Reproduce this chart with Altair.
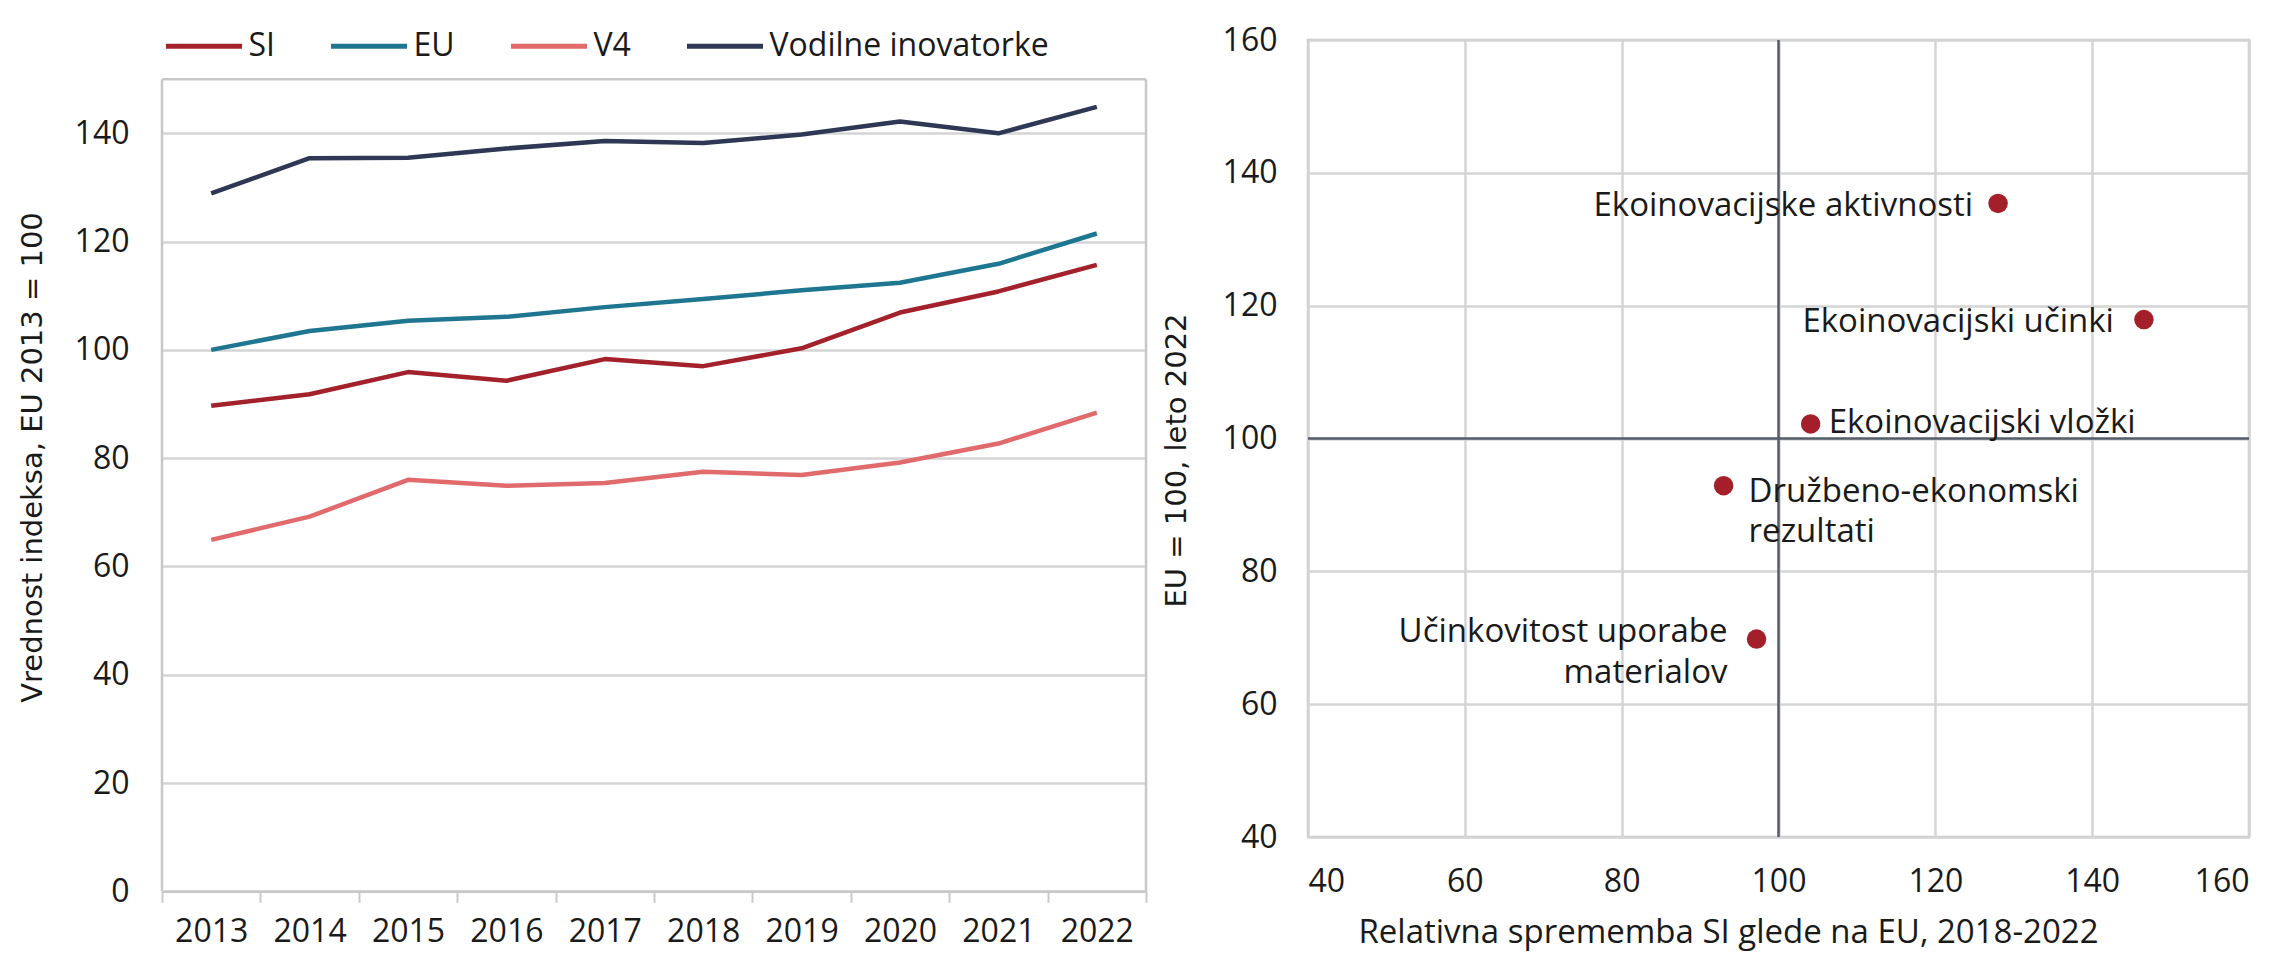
import altair as alt
import pandas as pd

# ---------------- data ----------------
years = ["2013", "2014", "2015", "2016", "2017", "2018", "2019", "2020", "2021", "2022"]
si = [89.7, 91.8, 95.9, 94.3, 98.3, 97.0, 100.3, 106.9, 110.8, 115.7]
eu = [100.0, 103.5, 105.4, 106.1, 107.9, 109.4, 111.0, 112.4, 115.9, 121.5]
v4 = [64.9, 69.2, 76.0, 74.9, 75.4, 77.5, 76.9, 79.2, 82.7, 88.4]
leaders = [128.9, 135.4, 135.5, 137.2, 138.6, 138.2, 139.8, 142.2, 140.0, 144.9]
series_names = ["SI", "EU", "V4", "Vodilne inovatorke"]
series_colors = ["#A3212A", "#1F7691", "#E06A6C", "#2E3754"]
left_ticks = [0, 20, 40, 60, 80, 100, 120, 140]
left_frame_top = 150

dim_labels = [
    "Ekoinovacijske aktivnosti",
    "Ekoinovacijski učinki",
    "Ekoinovacijski vložki",
    "Družbeno-ekonomski\nrezultati",
    "Učinkovitost uporabe\nmaterialov",
]
dim_change = [128.0, 146.6, 104.1, 93.0, 97.2]
dim_level = [135.4, 117.9, 102.2, 92.9, 69.8]
right_ticks = [40, 60, 80, 100, 120, 140, 160]
reference_value = [100]

TXT = "#1a1a1a"
GRID = "#D4D4D4"
FRAME = "#C8C8C8"
LABEL_FONT = "Open Sans"
TITLE_FONT = "DejaVu Sans"

# ---------------- left: line chart ----------------
rows = []
for name, vals in zip(series_names, [si, eu, v4, leaders]):
    for yr, v in zip(years, vals):
        rows.append({"leto": yr, "serija": name, "vrednost": v})
long = pd.DataFrame(rows)

x_left_scale = alt.Scale(type="band", paddingInner=0, paddingOuter=0, domain=years)
y_left_scale = alt.Scale(domain=[0, 157.24], nice=False, zero=True)

lines = alt.Chart(long).mark_line(strokeWidth=4.5, strokeJoin="round").encode(
    x=alt.X(
        "leto:O",
        scale=x_left_scale,
        axis=alt.Axis(
            title=None, labelAngle=0, tickBand="extent", grid=False,
            domainColor=FRAME, domainWidth=2.5,
            tickColor=FRAME, tickWidth=2, tickSize=11,
            labelPadding=14, bandPosition=0.5,
        ),
    ),
    y=alt.Y(
        "vrednost:Q",
        scale=y_left_scale,
        axis=alt.Axis(
            values=left_ticks, title="Vrednost  indeksa, EU 2013 = 100",
            ticks=False, domain=False, labelPadding=33,
            gridColor=GRID, gridWidth=2.5,
            titleX=-130, titleY=417, titleAngle=-90,
            titleAlign="center", titleBaseline="middle",
        ),
    ),
    color=alt.Color(
        "serija:N",
        scale=alt.Scale(domain=series_names, range=series_colors),
        legend=alt.Legend(
            title=None, orient="none", direction="horizontal",
            legendX=1.5, legendY=-34.5,
            symbolType="stroke", symbolSize=5776, symbolStrokeWidth=5,
            labelFont=LABEL_FONT, labelFontSize=32, labelColor=TXT,
            labelOffset=4, columnPadding=45, labelLimit=0,
        ),
    ),
)

frame_df = pd.DataFrame({"lo": [0], "hi": [left_frame_top]})
frame_top = alt.Chart(frame_df).mark_rule(color=FRAME, strokeWidth=2.5).encode(
    y=alt.Y("hi:Q", scale=y_left_scale)
)
frame_l = alt.Chart(frame_df).mark_rule(color=FRAME, strokeWidth=2.5).encode(
    x=alt.X(datum=years[0], type="ordinal", bandPosition=0, scale=x_left_scale),
    y=alt.Y("lo:Q", scale=y_left_scale), y2="hi:Q",
)
frame_r = alt.Chart(frame_df).mark_rule(color=FRAME, strokeWidth=2.5).encode(
    x=alt.X(datum=years[-1], type="ordinal", bandPosition=1, scale=x_left_scale),
    y=alt.Y("lo:Q", scale=y_left_scale), y2="hi:Q",
)

left = alt.layer(lines, frame_top, frame_l, frame_r).properties(
    width=984, height=851.3, view=alt.ViewBackground(stroke="transparent")
)

# ---------------- right: scatter ----------------
dims = pd.DataFrame({"naziv": dim_labels, "sprememba": dim_change, "raven": dim_level})

xs = alt.X(
    "sprememba:Q",
    scale=alt.Scale(domain=[40, 160], nice=False, zero=False),
    axis=alt.Axis(
        values=right_ticks, title="Relativna sprememba SI glede na EU, 2018-2022",
        ticks=False, domain=False, labelPadding=29,
        gridColor=GRID, gridWidth=2.5,
        titleFont=LABEL_FONT, titleFontSize=33,
        titleX=420, titleY=105, titleAlign="center", titleBaseline="alphabetic",
    ),
)
ys = alt.Y(
    "raven:Q",
    scale=alt.Scale(domain=[40, 160], nice=False, zero=False),
    axis=alt.Axis(
        values=right_ticks, title="EU = 100, leto 2022",
        ticks=False, domain=False, labelPadding=31,
        gridColor=GRID, gridWidth=2.5,
        titleX=-132, titleY=420, titleAngle=-90,
        titleAlign="center", titleBaseline="middle",
    ),
)

ref = pd.DataFrame({"v": reference_value})
vrule = alt.Chart(ref).mark_rule(color="#555C68", strokeWidth=2.5).encode(x=alt.X("v:Q"))
hrule = alt.Chart(ref).mark_rule(color="#555C68", strokeWidth=2.5).encode(y=alt.Y("v:Q"))

pts = alt.Chart(dims).mark_circle(size=380, color="#A3202A", opacity=1).encode(x=xs, y=ys)

# label placement (style, not data): (align, dx, first-line dy) per point
placement = [
    ("right", -25, 13),
    ("right", -30, 12),
    ("left", 18, 9),
    ("left", 25, 16),
    ("right", -29, 3),
]
line_gap = 40.5
texts = []
for i, (al, dx, dy) in enumerate(placement):
    parts = dim_labels[i].split("\n")
    for j, part in enumerate(parts):
        t = alt.Chart(dims).transform_filter(
            alt.datum.naziv == dim_labels[i]
        ).mark_text(
            align=al, baseline="alphabetic", dx=dx, dy=dy + j * line_gap,
            font=LABEL_FONT, fontSize=33, color=TXT,
        ).encode(x=xs, y=ys, text=alt.value(part))
        texts.append(t)

right = alt.layer(vrule, hrule, pts, *texts).properties(
    width=941, height=797, view=alt.ViewBackground(stroke=FRAME, strokeWidth=2.5)
)

chart = alt.hconcat(left, right, spacing=11).properties(
    padding={"left": 8, "top": -3, "right": 0, "bottom": 0},
    background="white",
).configure_view(
    stroke=FRAME, strokeWidth=2.5, fill="white"
).configure_axis(
    labelFont=LABEL_FONT, labelFontSize=32, labelColor=TXT,
    titleFont=TITLE_FONT, titleFontSize=29, titleFontWeight="normal", titleColor=TXT,
).configure_legend(
    labelFont=LABEL_FONT
)

chart.save("out.html", embed_options={"renderer": "svg", "actions": False})
